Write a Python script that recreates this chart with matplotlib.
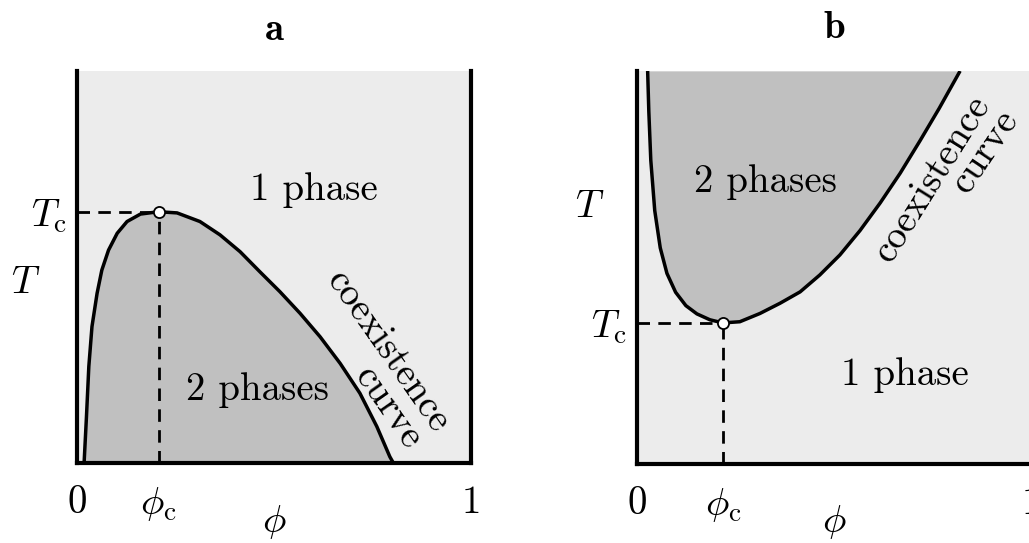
import matplotlib
matplotlib.use("Agg")
import matplotlib.pyplot as plt

plt.rcParams['mathtext.fontset'] = 'cm'
plt.rcParams['font.family'] = ['cmr10', 'DejaVu Sans']
plt.rcParams['axes.unicode_minus'] = False

# ---- data ----
# panel a: coexistence curve (upper critical point)
phi_a = [0.018, 0.024, 0.030, 0.038, 0.051, 0.063, 0.080, 0.102, 0.127,
         0.161, 0.207, 0.254, 0.312, 0.363, 0.414, 0.464, 0.515, 0.566,
         0.617, 0.668, 0.718, 0.761, 0.794, 0.803]
T_a = [0.0, 0.118, 0.246, 0.348, 0.433, 0.492, 0.543, 0.586, 0.616,
       0.635, 0.641, 0.638, 0.616, 0.582, 0.539, 0.488, 0.437, 0.382,
       0.322, 0.254, 0.178, 0.093, 0.016, 0.0]
phi_c_a = 0.207
T_c_a = 0.641

# panel b: coexistence curve (lower critical point)
phi_b = [0.027, 0.030, 0.035, 0.045, 0.059, 0.076, 0.098, 0.124, 0.152,
         0.185, 0.218, 0.261, 0.312, 0.363, 0.414, 0.464, 0.515, 0.566,
         0.617, 0.668, 0.718, 0.767, 0.820]
T_b = [1.0, 0.897, 0.773, 0.645, 0.550, 0.485, 0.437, 0.403, 0.382,
       0.367, 0.359, 0.362, 0.383, 0.409, 0.438, 0.481, 0.532, 0.594,
       0.664, 0.740, 0.822, 0.905, 1.0]
phi_c_b = 0.218
T_c_b = 0.359

x_tick_labels = ['0', r'$\phi_{\rm c}$', '1']
y_tick_label = r'$T_{\rm c}$'

BG = '#ececec'
FILL = '#c0c0c0'
FS = 28

W, H = 1029, 543
fig = plt.figure(figsize=(W / 100, H / 100), dpi=100)
ax_a = fig.add_axes([77 / W, (H - 463) / H, 394 / W, 392 / H])
ax_b = fig.add_axes([637 / W, (H - 464) / H, 394 / W, 393 / H])


def style(ax, phi_c, T_c):
    ax.set_xlim(0, 1)
    ax.set_ylim(0, 1)
    ax.set_facecolor(BG)
    ax.spines['top'].set_visible(False)
    for s in ('left', 'right', 'bottom'):
        ax.spines[s].set_linewidth(3.0)
        ax.spines[s].set_color('black')
    ax.set_xticks([0, phi_c, 1])
    ax.set_xticklabels(x_tick_labels, fontsize=FS)
    ax.set_yticks([T_c])
    ax.set_yticklabels([y_tick_label], fontsize=FS)
    ax.tick_params(axis='x', length=0, pad=16)
    ax.tick_params(axis='y', length=0, pad=7)
    # dashed guide lines
    ax.plot([0, phi_c], [T_c, T_c], color='black', lw=2.0, dashes=(4.5, 3), zorder=3)
    ax.plot([phi_c, phi_c], [0, T_c], color='black', lw=2.0, dashes=(4.5, 3), zorder=3)
    ax.plot([phi_c], [T_c], 'o', ms=8, mfc='white', mec='black', mew=1.3, zorder=5)


# ---- panel a ----
ax = ax_a
ax.fill_between(phi_a, 0, T_a, color=FILL, lw=0, zorder=1)
ax.plot(phi_a, T_a, color='black', lw=2.5, zorder=4,
        solid_capstyle='butt', solid_joinstyle='round')
style(ax, phi_c_a, T_c_a)
ax.text(0.602, 0.696, '1 phase', fontsize=FS, ha='center', va='center')
ax.text(0.457, 0.186, '2 phases', fontsize=FS, ha='center', va='center')
ax.text(0.789, 0.283, 'coexistence', fontsize=FS, ha='center', va='center',
        rotation=-55, rotation_mode='anchor')
ax.text(0.789, 0.140, 'curve', fontsize=FS, ha='center', va='center',
        rotation=-55, rotation_mode='anchor')
ax.text(-0.129, 0.459, r'$T$', fontsize=FS, ha='center', va='center', transform=ax.transAxes)
ax.text(0.5, -0.198, r'$\phi$', fontsize=FS, ha='center', va='bottom', transform=ax.transAxes)
ax.text(0.5, 1.105, r'$\mathbf{a}$', fontsize=FS, ha='center', va='center', transform=ax.transAxes)

# ---- panel b ----
ax = ax_b
ax.fill_between(phi_b, T_b, 1, color=FILL, lw=0, zorder=1)
ax.plot(phi_b, T_b, color='black', lw=2.5, zorder=4,
        solid_capstyle='butt', solid_joinstyle='round')
style(ax, phi_c_b, T_c_b)
ax.text(0.327, 0.718, '2 phases', fontsize=FS, ha='center', va='center')
ax.text(0.680, 0.226, '1 phase', fontsize=FS, ha='center', va='center')
ax.text(0.749, 0.725, 'coexistence', fontsize=FS, ha='center', va='center',
        rotation=58, rotation_mode='anchor')
ax.text(0.883, 0.796, 'curve', fontsize=FS, ha='center', va='center',
        rotation=56, rotation_mode='anchor')
ax.text(-0.119, 0.654, r'$T$', fontsize=FS, ha='center', va='center', transform=ax.transAxes)
ax.text(0.5, -0.195, r'$\phi$', fontsize=FS, ha='center', va='bottom', transform=ax.transAxes)
ax.text(0.5, 1.11, r'$\mathbf{b}$', fontsize=FS, ha='center', va='center', transform=ax.transAxes)

fig.savefig('out.png', dpi=100)
